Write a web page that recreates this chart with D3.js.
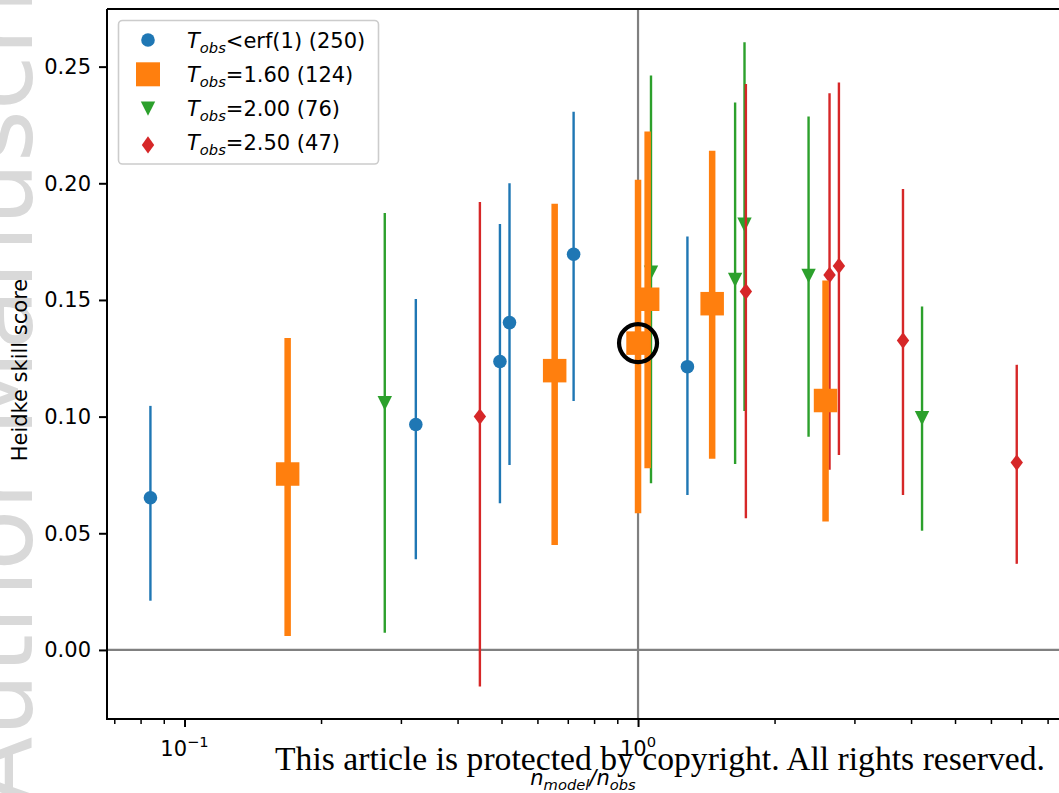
<!DOCTYPE html>
<html>
<head>
<meta charset="utf-8">
<script src="https://cdn.jsdelivr.net/npm/d3@7"></script>
<style>
  html, body { margin: 0; padding: 0; background: #fff; }
  svg { display: block; }
</style>
</head>
<body>
<svg id="chart" width="1059" height="793"></svg>
<script>
// ---------------- data ----------------
const seriesNames = ["<erf(1) (250)", "=1.60 (124)", "=2.00 (76)", "=2.50 (47)"];
const seriesColors = ["#1f77b4", "#ff7f0e", "#2ca02c", "#d62728"];

const blueX  = [0.0841, 0.3236, 0.496, 0.5207, 0.721, 1.285];
const blueY  = [0.0652, 0.0966, 0.1236, 0.1403, 0.1696, 0.1214];
const blueLo = [0.0211, 0.0389, 0.0629, 0.0793, 0.1067, 0.0664];
const blueHi = [0.1046, 0.1504, 0.1825, 0.2000, 0.2307, 0.1772];

const orangeX  = [0.1688, 0.6549, 1.0, 1.05, 1.457, 2.591];
const orangeY  = [0.0754, 0.1197, 0.1315, 0.1503, 0.1484, 0.1069];
const orangeLo = [0.0060, 0.0450, 0.0586, 0.0779, 0.0819, 0.0550];
const orangeHi = [0.1337, 0.1912, 0.2015, 0.2222, 0.2139, 0.1583];

const greenX  = [0.2764, 1.068, 1.637, 1.717, 2.377, 4.229];
const greenY  = [0.1057, 0.1617, 0.1586, 0.1822, 0.1603, 0.0993];
const greenLo = [0.0074, 0.0714, 0.0797, 0.1024, 0.0914, 0.0511];
const greenHi = [0.1873, 0.2462, 0.2346, 0.2605, 0.2286, 0.1472];

const redX  = [0.448, 1.729, 2.644, 2.773, 3.839, 6.84];
const redY  = [0.1000, 0.1536, 0.1607, 0.1646, 0.1326, 0.0803];
const redLo = [-0.0157, 0.0564, 0.0772, 0.0836, 0.0664, 0.0369];
const redHi = [0.1920, 0.2426, 0.2386, 0.2432, 0.1975, 0.1222];

const highlightX = 1.0, highlightY = 0.1315;

const yTicks = [0.00, 0.05, 0.10, 0.15, 0.20, 0.25];
const xMajorTicks = [0.1, 1];
const xMajorLabels = [["10", "\u22121"], ["10", "0"]];
const xMinorTicks = [0.07, 0.08, 0.09, 0.2, 0.3, 0.4, 0.5, 0.6, 0.7, 0.8, 0.9, 2, 3, 4, 5, 6, 7, 8];

// ---------------- layout ----------------
const svg = d3.select("#chart");
const L = 107, R = 1060, T = 9, B = 719;

const x = d3.scaleLog().domain([0.06746, 8.52]).range([L, R]);
const y = d3.scaleLinear().domain([-0.0296, 0.2747]).range([B, T]);

// watermark
svg.append("text")
  .attr("transform", "translate(32,805) rotate(-90)")
  .attr("font-family", "DejaVu Sans, sans-serif")
  .attr("font-size", 100)
  .attr("fill", "#d9d9d9")
  .text("Author Manuscript");

svg.append("defs").append("clipPath").attr("id", "plotclip")
  .append("rect").attr("x", L).attr("y", T).attr("width", R - L).attr("height", B - T);

const plot = svg.append("g").attr("clip-path", "url(#plotclip)");

// reference lines
plot.append("line").attr("x1", L).attr("x2", R).attr("y1", y(0)).attr("y2", y(0))
  .attr("stroke", "#808080").attr("stroke-width", 2.2);
plot.append("line").attr("x1", x(1)).attr("x2", x(1)).attr("y1", T).attr("y2", B)
  .attr("stroke", "#808080").attr("stroke-width", 2.2);

function drawSeries(xs, ys, lo, hi, color, lw, markerFn) {
  const g = plot.append("g");
  g.selectAll("line.err").data(xs).join("line")
    .attr("class", "err")
    .attr("x1", (d) => x(d)).attr("x2", (d) => x(d))
    .attr("y1", (d, i) => y(lo[i])).attr("y2", (d, i) => y(hi[i]))
    .attr("stroke", color).attr("stroke-width", lw);
  xs.forEach((d, i) => markerFn(g, x(d), y(ys[i]), color));
}

function circleM(g, cx, cy, c, r = 6.8) {
  g.append("circle").attr("cx", cx).attr("cy", cy).attr("r", r).attr("fill", c);
}
function squareM(g, cx, cy, c, s = 23.5) {
  g.append("rect").attr("x", cx - s / 2).attr("y", cy - s / 2).attr("width", s).attr("height", s).attr("fill", c);
}
function triM(g, cx, cy, c, s = 7.2) {
  g.append("path").attr("d", `M${cx},${cy + s}L${cx - s},${cy - s}L${cx + s},${cy - s}Z`).attr("fill", c);
}
function diaM(g, cx, cy, c, w = 6.2, h = 8.2) {
  g.append("path").attr("d", `M${cx},${cy - h}L${cx + w},${cy}L${cx},${cy + h}L${cx - w},${cy}Z`).attr("fill", c);
}

drawSeries(blueX, blueY, blueLo, blueHi, seriesColors[0], 2.4, circleM);
drawSeries(greenX, greenY, greenLo, greenHi, seriesColors[2], 2.4, triM);
drawSeries(redX, redY, redLo, redHi, seriesColors[3], 2.4, diaM);
drawSeries(orangeX, orangeY, orangeLo, orangeHi, seriesColors[1], 6.5, squareM);

// highlight circle
plot.append("circle").attr("cx", x(highlightX)).attr("cy", y(highlightY)).attr("r", 19)
  .attr("fill", "none").attr("stroke", "#000").attr("stroke-width", 4.2);

// ---------------- axes ----------------
const FONT = "DejaVu Sans, sans-serif";

const yAxis = svg.append("g").attr("transform", `translate(${L},0)`)
  .call(d3.axisLeft(y).tickValues(yTicks).tickFormat(d3.format(".2f")).tickSize(8).tickPadding(8));
yAxis.select(".domain").remove();
yAxis.selectAll(".tick line").attr("stroke", "#000").attr("stroke-width", 2);
yAxis.selectAll(".tick text").attr("font-family", FONT).attr("font-size", 21).attr("fill", "#000");

const xAxis = svg.append("g").attr("transform", `translate(0,${B})`)
  .call(d3.axisBottom(x).tickValues(xMajorTicks).tickFormat("").tickSize(8));
xAxis.select(".domain").remove();
xAxis.selectAll(".tick line").attr("stroke", "#000").attr("stroke-width", 2);

const xMinor = svg.append("g").attr("transform", `translate(0,${B})`)
  .call(d3.axisBottom(x).tickValues(xMinorTicks).tickFormat("").tickSize(5));
xMinor.select(".domain").remove();
xMinor.selectAll(".tick line").attr("stroke", "#000").attr("stroke-width", 1.5);

xMajorTicks.forEach((v, i) => {
  const t = svg.append("text")
    .attr("x", x(v)).attr("y", 756)
    .attr("text-anchor", "middle")
    .attr("font-family", FONT).attr("font-size", 21).attr("fill", "#000");
  t.append("tspan").text(xMajorLabels[i][0]);
  t.append("tspan").attr("dy", -9).attr("font-size", 14.7).text(xMajorLabels[i][1]);
});

// spines
svg.append("path")
  .attr("d", `M${L},${T}L${L},${B}L${R},${B}M${L},${T}L${R},${T}`)
  .attr("fill", "none").attr("stroke", "#000").attr("stroke-width", 2);

// ---------------- legend ----------------
const lg = svg.append("g");
lg.append("rect").attr("x", 118.5).attr("y", 20.5).attr("width", 260).attr("height", 143.5)
  .attr("rx", 4).attr("fill", "#fff").attr("fill-opacity", 0.85)
  .attr("stroke", "#cccccc").attr("stroke-width", 1.6);
const rowY = [40, 74.3, 108.6, 142.9];
const mk = [circleM, squareM, triM, diaM];
rowY.forEach((ry, i) => {
  if (i === 3) diaM(lg, 148, ry + 2, seriesColors[i], 6.2, 8.6);
  else if (i === 1) squareM(lg, 148, ry, seriesColors[i], 24);
  else mk[i](lg, 148, ry, seriesColors[i]);
  const t = lg.append("text").attr("x", 187).attr("y", ry + 7.5)
    .attr("font-family", FONT).attr("font-size", 21).attr("fill", "#000");
  t.append("tspan").attr("font-style", "italic").text("T");
  t.append("tspan").attr("font-style", "italic").attr("font-size", 14.7).attr("dy", 5).text("obs");
  t.append("tspan").attr("dy", -5).text(seriesNames[i]);
});

// axis labels
svg.append("text")
  .attr("transform", "translate(27,370) rotate(-90)")
  .attr("text-anchor", "middle")
  .attr("font-family", FONT).attr("font-size", 21).attr("fill", "#000")
  .text("Heidke skill score");

const xl = svg.append("text")
  .attr("x", 583).attr("y", 785)
  .attr("text-anchor", "middle")
  .attr("font-family", FONT).attr("font-size", 21).attr("font-style", "italic").attr("fill", "#000");
xl.append("tspan").text("n");
xl.append("tspan").attr("font-size", 14.7).attr("dy", 4.5).text("model");
xl.append("tspan").attr("dy", -4.5).text("/n");
xl.append("tspan").attr("font-size", 14.7).attr("dy", 4.5).text("obs");

// copyright notice
svg.append("text")
  .attr("x", 275).attr("y", 770)
  .attr("font-family", "Liberation Serif, Times New Roman, serif")
  .attr("font-size", 34)
  .attr("textLength", 770).attr("lengthAdjust", "spacingAndGlyphs")
  .attr("fill", "#000")
  .text("This article is protected by copyright. All rights reserved.");
</script>
</body>
</html>
